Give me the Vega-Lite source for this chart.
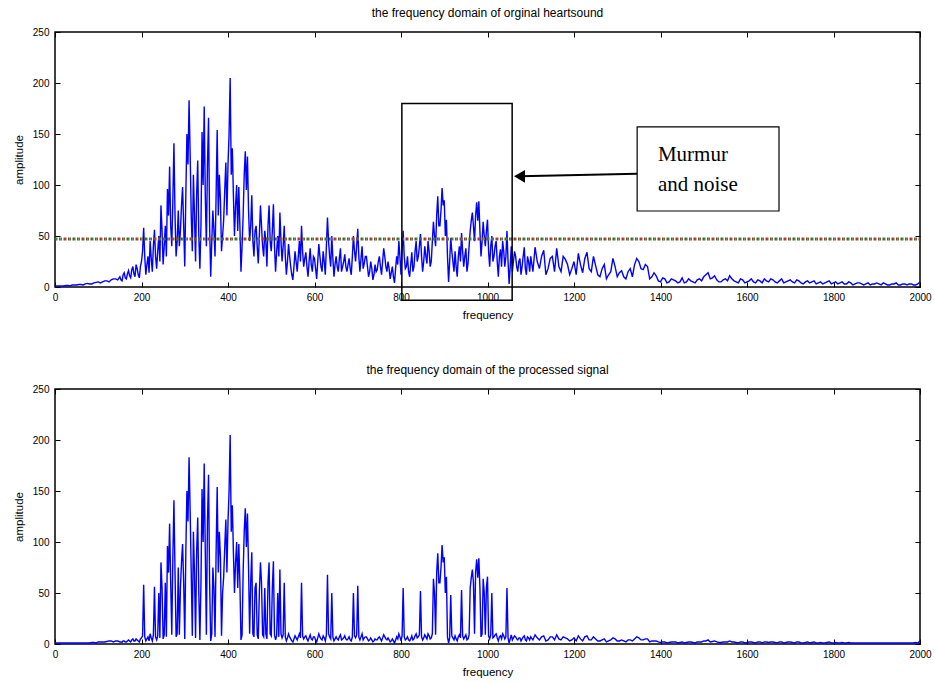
{
"$schema": "https://vega.github.io/schema/vega-lite/v6.json",
"padding": {"left": 12, "top": 6, "right": 10, "bottom": 4},
"spacing": 41,
"config": {
  "font": "Liberation Sans",
  "view": {"stroke": "black", "strokeWidth": 1.5},
  "axis": {"domain": false, "grid": false, "tickColor": "black", "tickWidth": 1, "labelColor": "black", "titleColor": "black", "labelFontSize": 10, "titleFontSize": 11.5, "titleFontWeight": "normal", "labelFlush": false, "labelOverlap": false, "format": "d"},
  "title": {"fontSize": 12, "fontWeight": "normal", "color": "black", "offset": 7}
},
"datasets": {
"s": [
{"f":0,"a":1,"b":1},{"f":10,"a":1,"b":1},{"f":20,"a":1,"b":1},{"f":30,"a":1.5,"b":1},{"f":40,"a":2,"b":1},{"f":50,"a":2,"b":1},{"f":60,"a":2.5,"b":1},{"f":70,"a":3,"b":1},{"f":80,"a":3,"b":1},{"f":90,"a":4,"b":1.5},{"f":100,"a":5,"b":2},{"f":110,"a":5,"b":2},{"f":120,"a":6,"b":2.5},{"f":130,"a":7,"b":3},{"f":140,"a":8,"b":3},
{"f":150,"a":10,"b":2},{"f":155,"a":6,"b":1.5},{"f":160,"a":14,"b":3},{"f":165,"a":8,"b":2},{"f":170,"a":16,"b":4},{"f":175,"a":9,"b":2},{"f":180,"a":20,"b":5},{"f":185,"a":10,"b":3},{"f":190,"a":18,"b":4},{"f":195,"a":9,"b":2},
{"f":200,"a":25,"b":6},{"f":205,"a":58,"b":58},{"f":210,"a":12,"b":3},{"f":215,"a":30,"b":7},{"f":220,"a":45,"b":10},{"f":225,"a":15,"b":3},{"f":230,"a":56,"b":56},{"f":235,"a":18,"b":4},{"f":240,"a":50,"b":50},{"f":245,"a":80,"b":80},
{"f":250,"a":22,"b":5},{"f":255,"a":60,"b":60},{"f":260,"a":96,"b":96},{"f":265,"a":118,"b":118},{"f":270,"a":40,"b":9},{"f":275,"a":141,"b":141},{"f":280,"a":30,"b":7},{"f":285,"a":75,"b":75},{"f":290,"a":55,"b":55},{"f":295,"a":98,"b":98},
{"f":300,"a":20,"b":5},{"f":305,"a":150,"b":150},{"f":310,"a":183,"b":183},{"f":315,"a":70,"b":70},{"f":320,"a":110,"b":110},{"f":325,"a":25,"b":6},{"f":330,"a":124,"b":124},{"f":335,"a":18,"b":4},{"f":340,"a":152,"b":152},{"f":345,"a":177,"b":177},
{"f":350,"a":40,"b":9},{"f":355,"a":166,"b":166},{"f":360,"a":10,"b":3},{"f":365,"a":75,"b":75},{"f":370,"a":30,"b":7},{"f":375,"a":154,"b":154},{"f":380,"a":110,"b":110},{"f":385,"a":35,"b":8},{"f":390,"a":66,"b":66},{"f":395,"a":122,"b":122},
{"f":400,"a":120,"b":120},{"f":405,"a":205,"b":205},{"f":410,"a":136,"b":136},{"f":415,"a":50,"b":50},{"f":420,"a":100,"b":100},{"f":425,"a":98,"b":98},{"f":430,"a":15,"b":4},{"f":435,"a":70,"b":70},{"f":440,"a":133,"b":133},{"f":445,"a":128,"b":128},
{"f":450,"a":45,"b":10},{"f":455,"a":90,"b":90},{"f":460,"a":30,"b":7},{"f":465,"a":60,"b":60},{"f":470,"a":23,"b":5},{"f":475,"a":80,"b":80},{"f":480,"a":40,"b":9},{"f":485,"a":55,"b":55},{"f":490,"a":20,"b":5},{"f":495,"a":80,"b":80},
{"f":500,"a":35,"b":8},{"f":505,"a":81,"b":81},{"f":510,"a":15,"b":4},{"f":515,"a":50,"b":50},{"f":520,"a":73,"b":73},{"f":525,"a":25,"b":6},{"f":530,"a":60,"b":60},{"f":535,"a":12,"b":3},{"f":540,"a":42,"b":10},{"f":545,"a":20,"b":5},
{"f":550,"a":7,"b":2},{"f":555,"a":35,"b":8},{"f":560,"a":15,"b":4},{"f":565,"a":45,"b":10},{"f":570,"a":60,"b":60},{"f":575,"a":20,"b":5},{"f":580,"a":34,"b":8},{"f":585,"a":10,"b":3},{"f":590,"a":38,"b":9},{"f":595,"a":15,"b":4},
{"f":600,"a":28,"b":7},{"f":605,"a":8,"b":2},{"f":610,"a":42,"b":10},{"f":615,"a":20,"b":5},{"f":620,"a":35,"b":8},{"f":625,"a":12,"b":3},{"f":630,"a":68,"b":68},{"f":635,"a":30,"b":7},{"f":640,"a":50,"b":50},{"f":645,"a":10,"b":3},
{"f":650,"a":30,"b":7},{"f":655,"a":15,"b":4},{"f":660,"a":38,"b":9},{"f":665,"a":20,"b":5},{"f":670,"a":32,"b":8},{"f":675,"a":15,"b":4},{"f":680,"a":28,"b":7},{"f":685,"a":12,"b":3},{"f":690,"a":50,"b":50},{"f":695,"a":25,"b":6},
{"f":700,"a":57,"b":57},{"f":705,"a":15,"b":4},{"f":710,"a":40,"b":10},{"f":715,"a":23,"b":6},{"f":720,"a":30,"b":7},{"f":725,"a":10,"b":3},{"f":730,"a":25,"b":6},{"f":735,"a":7,"b":2},{"f":740,"a":22,"b":5},{"f":745,"a":17,"b":4},
{"f":750,"a":30,"b":7},{"f":755,"a":12,"b":3},{"f":760,"a":38,"b":9},{"f":765,"a":20,"b":5},{"f":770,"a":25,"b":6},{"f":775,"a":8,"b":2},{"f":780,"a":20,"b":5},{"f":785,"a":4,"b":1},{"f":790,"a":30,"b":7},{"f":795,"a":45,"b":10},
{"f":800,"a":12,"b":3},{"f":805,"a":55,"b":55},{"f":810,"a":18,"b":4},{"f":815,"a":30,"b":7},{"f":820,"a":10,"b":3},{"f":825,"a":34,"b":8},{"f":830,"a":20,"b":5},{"f":835,"a":45,"b":10},{"f":840,"a":30,"b":7},{"f":845,"a":52,"b":52},
{"f":850,"a":15,"b":4},{"f":855,"a":40,"b":9},{"f":860,"a":23,"b":5},{"f":865,"a":35,"b":8},{"f":870,"a":25,"b":6},{"f":875,"a":64,"b":64},{"f":880,"a":40,"b":9},{"f":885,"a":89,"b":89},{"f":890,"a":60,"b":60},{"f":895,"a":97,"b":97},
{"f":900,"a":85,"b":85},{"f":905,"a":66,"b":66},{"f":910,"a":5,"b":1},{"f":915,"a":48,"b":48},{"f":920,"a":25,"b":6},{"f":925,"a":35,"b":8},{"f":930,"a":10,"b":3},{"f":935,"a":40,"b":9},{"f":940,"a":53,"b":53},{"f":945,"a":20,"b":5},
{"f":950,"a":38,"b":9},{"f":955,"a":23,"b":5},{"f":960,"a":55,"b":55},{"f":965,"a":73,"b":73},{"f":970,"a":45,"b":10},{"f":975,"a":83,"b":83},{"f":980,"a":84,"b":84},{"f":985,"a":30,"b":7},{"f":990,"a":64,"b":64},{"f":995,"a":40,"b":9},
{"f":1000,"a":66,"b":66},{"f":1005,"a":20,"b":5},{"f":1010,"a":50,"b":50},{"f":1015,"a":30,"b":7},{"f":1020,"a":45,"b":10},{"f":1025,"a":10,"b":3},{"f":1030,"a":37,"b":8},{"f":1035,"a":45,"b":10},{"f":1040,"a":20,"b":5},{"f":1045,"a":55,"b":55},
{"f":1050,"a":3,"b":1},{"f":1055,"a":40,"b":9},{"f":1060,"a":25,"b":6},{"f":1065,"a":30,"b":7},{"f":1070,"a":15,"b":4},{"f":1075,"a":28,"b":6},{"f":1080,"a":20,"b":5},{"f":1085,"a":39,"b":8},{"f":1090,"a":12,"b":3},{"f":1095,"a":25,"b":6},
{"f":1100,"a":30,"b":7},{"f":1110,"a":39,"b":9},{"f":1120,"a":18,"b":4},{"f":1130,"a":36,"b":8},{"f":1140,"a":18,"b":4},{"f":1150,"a":30,"b":7},{"f":1160,"a":38,"b":9},{"f":1170,"a":15,"b":4},{"f":1180,"a":27,"b":6},{"f":1190,"a":12,"b":3},
{"f":1200,"a":25,"b":6},{"f":1210,"a":33,"b":8},{"f":1220,"a":14,"b":3},{"f":1230,"a":34,"b":8},{"f":1240,"a":15,"b":4},{"f":1250,"a":21,"b":5},{"f":1260,"a":10,"b":3},{"f":1270,"a":22,"b":5},{"f":1280,"a":12,"b":3},{"f":1290,"a":28,"b":6},
{"f":1300,"a":10,"b":3},{"f":1310,"a":16,"b":4},{"f":1320,"a":8,"b":2},{"f":1330,"a":18,"b":4},{"f":1340,"a":22,"b":5},{"f":1350,"a":25,"b":6},{"f":1360,"a":17,"b":4},{"f":1370,"a":20,"b":5},{"f":1380,"a":10,"b":3},{"f":1390,"a":11,"b":3},
{"f":1400,"a":5,"b":1.5},{"f":1410,"a":8,"b":2},{"f":1420,"a":5,"b":1.5},{"f":1430,"a":7,"b":2},{"f":1440,"a":4,"b":1},{"f":1450,"a":9,"b":2},{"f":1460,"a":5,"b":1.5},{"f":1470,"a":6,"b":2},{"f":1480,"a":4,"b":1},{"f":1490,"a":8,"b":2},
{"f":1500,"a":10,"b":3},{"f":1510,"a":14,"b":4},{"f":1520,"a":9,"b":2.5},{"f":1530,"a":7,"b":2},{"f":1540,"a":5,"b":1.5},{"f":1550,"a":8,"b":2},{"f":1560,"a":11,"b":3},{"f":1570,"a":6,"b":2},{"f":1580,"a":4,"b":1},{"f":1590,"a":7,"b":2},
{"f":1600,"a":5,"b":1.5},{"f":1610,"a":8,"b":2},{"f":1620,"a":4,"b":1},{"f":1630,"a":6,"b":2},{"f":1640,"a":8,"b":2},{"f":1650,"a":5,"b":1.5},{"f":1660,"a":7,"b":2},{"f":1670,"a":4,"b":1},{"f":1680,"a":8,"b":2},{"f":1690,"a":5,"b":1.5},
{"f":1700,"a":7,"b":2},{"f":1710,"a":4,"b":1},{"f":1720,"a":6,"b":2},{"f":1730,"a":3,"b":1},{"f":1740,"a":6,"b":2},{"f":1750,"a":5,"b":1.5},{"f":1760,"a":3,"b":1},{"f":1770,"a":5,"b":1.5},{"f":1780,"a":4,"b":1},{"f":1790,"a":6,"b":2},
{"f":1800,"a":4,"b":1},{"f":1810,"a":3,"b":1},{"f":1820,"a":5,"b":1.5},{"f":1830,"a":3,"b":1},{"f":1840,"a":4,"b":1},{"f":1850,"a":3,"b":1},{"f":1860,"a":4,"b":1},{"f":1870,"a":2,"b":1},{"f":1880,"a":4,"b":1},{"f":1890,"a":3,"b":1},
{"f":1900,"a":4,"b":1},{"f":1910,"a":2,"b":1},{"f":1920,"a":3,"b":1},{"f":1930,"a":2,"b":1},{"f":1940,"a":3,"b":1},{"f":1950,"a":2,"b":1},{"f":1960,"a":3,"b":1},{"f":1970,"a":2,"b":1},{"f":1980,"a":3,"b":1},{"f":1990,"a":2,"b":1.5},{"f":2000,"a":5,"b":3},
{"f":5,"a":1,"b":1},{"f":15,"a":1,"b":1},{"f":25,"a":1.5,"b":1},{"f":35,"a":1,"b":1},{"f":45,"a":2,"b":1},{"f":55,"a":2.5,"b":1},{"f":65,"a":2,"b":1},{"f":75,"a":3.5,"b":1},{"f":85,"a":3,"b":1.5},{"f":95,"a":4.5,"b":1},{"f":105,"a":4,"b":2},{"f":115,"a":6,"b":2},{"f":125,"a":5,"b":3},{"f":135,"a":8,"b":2},{"f":145,"a":7,"b":3},
{"f":152.5,"a":7,"b":2},{"f":157.5,"a":12,"b":3},{"f":162.5,"a":9,"b":2},{"f":167.5,"a":13,"b":3},{"f":172.5,"a":11,"b":3},{"f":177.5,"a":17,"b":4},{"f":182.5,"a":13,"b":3},{"f":187.5,"a":22,"b":5},{"f":192.5,"a":12,"b":3},{"f":197.5,"a":20,"b":5},
{"f":202.5,"a":35,"b":8},{"f":207.5,"a":30,"b":7},{"f":212.5,"a":22,"b":5},{"f":217.5,"a":14,"b":3},{"f":222.5,"a":28,"b":6},{"f":227.5,"a":40,"b":9},{"f":232.5,"a":30,"b":7},{"f":237.5,"a":35,"b":8},{"f":242.5,"a":25,"b":6},{"f":247.5,"a":55,"b":55},
{"f":252.5,"a":40,"b":9},{"f":257.5,"a":30,"b":7},{"f":262.5,"a":70,"b":70},{"f":267.5,"a":60,"b":60},{"f":272.5,"a":85,"b":85},{"f":277.5,"a":70,"b":70},{"f":282.5,"a":45,"b":10},{"f":287.5,"a":40,"b":9},{"f":292.5,"a":80,"b":80},{"f":297.5,"a":60,"b":60},
{"f":302.5,"a":90,"b":90},{"f":307.5,"a":120,"b":120},{"f":312.5,"a":130,"b":130},{"f":317.5,"a":35,"b":8},{"f":322.5,"a":70,"b":70},{"f":327.5,"a":90,"b":90},{"f":332.5,"a":50,"b":50},{"f":337.5,"a":60,"b":60},{"f":342.5,"a":100,"b":100},{"f":347.5,"a":90,"b":90},
{"f":352.5,"a":120,"b":120},{"f":357.5,"a":60,"b":60},{"f":362.5,"a":45,"b":10},{"f":367.5,"a":55,"b":55},{"f":372.5,"a":90,"b":90},{"f":377.5,"a":70,"b":70},{"f":382.5,"a":85,"b":85},{"f":387.5,"a":50,"b":50},{"f":392.5,"a":95,"b":95},{"f":397.5,"a":70,"b":70},
{"f":402.5,"a":150,"b":150},{"f":407.5,"a":110,"b":110},{"f":412.5,"a":90,"b":90},{"f":417.5,"a":80,"b":80},{"f":422.5,"a":55,"b":55},{"f":427.5,"a":60,"b":60},{"f":432.5,"a":40,"b":9},{"f":437.5,"a":110,"b":110},{"f":442.5,"a":95,"b":95},{"f":447.5,"a":75,"b":75},
{"f":452.5,"a":60,"b":60},{"f":457.5,"a":45,"b":10},{"f":462.5,"a":55,"b":55},{"f":467.5,"a":40,"b":9},{"f":472.5,"a":50,"b":50},{"f":477.5,"a":60,"b":60},{"f":482.5,"a":30,"b":7},{"f":487.5,"a":45,"b":10},{"f":492.5,"a":60,"b":60},{"f":497.5,"a":45,"b":10},
{"f":502.5,"a":55,"b":55},{"f":507.5,"a":40,"b":9},{"f":512.5,"a":35,"b":8},{"f":517.5,"a":30,"b":7},{"f":522.5,"a":45,"b":10},{"f":527.5,"a":40,"b":9},{"f":532.5,"a":30,"b":7},{"f":537.5,"a":25,"b":6},{"f":542.5,"a":30,"b":7},{"f":547.5,"a":12,"b":3},
{"f":552.5,"a":20,"b":5},{"f":557.5,"a":25,"b":6},{"f":562.5,"a":30,"b":7},{"f":567.5,"a":25,"b":6},{"f":572.5,"a":35,"b":8},{"f":577.5,"a":28,"b":7},{"f":582.5,"a":20,"b":5},{"f":587.5,"a":25,"b":6},{"f":592.5,"a":22,"b":5},{"f":597.5,"a":30,"b":7},
{"f":602.5,"a":18,"b":4},{"f":607.5,"a":25,"b":6},{"f":612.5,"a":30,"b":7},{"f":617.5,"a":15,"b":4},{"f":622.5,"a":25,"b":6},{"f":627.5,"a":40,"b":9},{"f":632.5,"a":45,"b":10},{"f":637.5,"a":20,"b":5},{"f":642.5,"a":28,"b":7},{"f":647.5,"a":22,"b":5},
{"f":652.5,"a":20,"b":5},{"f":657.5,"a":28,"b":7},{"f":662.5,"a":15,"b":4},{"f":667.5,"a":25,"b":6},{"f":672.5,"a":20,"b":5},{"f":677.5,"a":22,"b":5},{"f":682.5,"a":18,"b":4},{"f":687.5,"a":30,"b":7},{"f":692.5,"a":35,"b":8},{"f":697.5,"a":40,"b":9},
{"f":702.5,"a":30,"b":7},{"f":707.5,"a":28,"b":7},{"f":712.5,"a":18,"b":4},{"f":717.5,"a":30,"b":7},{"f":722.5,"a":20,"b":5},{"f":727.5,"a":15,"b":4},{"f":732.5,"a":18,"b":4},{"f":737.5,"a":12,"b":3},{"f":742.5,"a":15,"b":4},{"f":747.5,"a":25,"b":6},
{"f":752.5,"a":20,"b":5},{"f":757.5,"a":25,"b":6},{"f":762.5,"a":30,"b":7},{"f":767.5,"a":15,"b":4},{"f":772.5,"a":18,"b":4},{"f":777.5,"a":14,"b":3},{"f":782.5,"a":10,"b":3},{"f":787.5,"a":18,"b":4},{"f":792.5,"a":22,"b":5},{"f":797.5,"a":30,"b":7},
{"f":802.5,"a":35,"b":8},{"f":807.5,"a":30,"b":7},{"f":812.5,"a":20,"b":5},{"f":817.5,"a":15,"b":4},{"f":822.5,"a":22,"b":5},{"f":827.5,"a":15,"b":4},{"f":832.5,"a":35,"b":8},{"f":837.5,"a":25,"b":6},{"f":842.5,"a":40,"b":9},{"f":847.5,"a":30,"b":7},
{"f":852.5,"a":25,"b":6},{"f":857.5,"a":30,"b":7},{"f":862.5,"a":45,"b":10},{"f":867.5,"a":20,"b":5},{"f":872.5,"a":45,"b":10},{"f":877.5,"a":50,"b":50},{"f":882.5,"a":70,"b":70},{"f":887.5,"a":60,"b":60},{"f":892.5,"a":75,"b":75},{"f":897.5,"a":80,"b":80},
{"f":902.5,"a":50,"b":50},{"f":907.5,"a":30,"b":7},{"f":912.5,"a":25,"b":6},{"f":917.5,"a":35,"b":8},{"f":922.5,"a":15,"b":4},{"f":927.5,"a":20,"b":5},{"f":932.5,"a":30,"b":7},{"f":937.5,"a":25,"b":6},{"f":942.5,"a":35,"b":8},{"f":947.5,"a":30,"b":7},
{"f":952.5,"a":15,"b":4},{"f":957.5,"a":40,"b":9},{"f":962.5,"a":65,"b":65},{"f":967.5,"a":60,"b":60},{"f":972.5,"a":70,"b":70},{"f":977.5,"a":65,"b":65},{"f":982.5,"a":55,"b":55},{"f":987.5,"a":45,"b":10},{"f":992.5,"a":50,"b":50},{"f":997.5,"a":55,"b":55},
{"f":1002.5,"a":35,"b":8},{"f":1007.5,"a":40,"b":9},{"f":1012.5,"a":25,"b":6},{"f":1017.5,"a":40,"b":9},{"f":1022.5,"a":25,"b":6},{"f":1027.5,"a":30,"b":7},{"f":1032.5,"a":20,"b":5},{"f":1037.5,"a":35,"b":8},{"f":1042.5,"a":30,"b":7},{"f":1047.5,"a":25,"b":6},
{"f":1052.5,"a":20,"b":5},{"f":1057.5,"a":15,"b":4},{"f":1062.5,"a":35,"b":8},{"f":1067.5,"a":20,"b":5},{"f":1072.5,"a":25,"b":6},{"f":1077.5,"a":12,"b":3},{"f":1082.5,"a":30,"b":7},{"f":1087.5,"a":18,"b":4},{"f":1092.5,"a":30,"b":7},{"f":1097.5,"a":15,"b":4},
{"f":1105,"a":15,"b":4},{"f":1115,"a":25,"b":6},{"f":1125,"a":30,"b":7},{"f":1135,"a":12,"b":3},{"f":1145,"a":28,"b":7},{"f":1155,"a":15,"b":4},{"f":1165,"a":20,"b":5},{"f":1175,"a":30,"b":7},{"f":1185,"a":22,"b":5},{"f":1195,"a":18,"b":4},
{"f":1205,"a":12,"b":3},{"f":1215,"a":22,"b":5},{"f":1225,"a":28,"b":7},{"f":1235,"a":18,"b":4},{"f":1245,"a":30,"b":7},{"f":1255,"a":12,"b":3},{"f":1265,"a":18,"b":4},{"f":1275,"a":8,"b":2},{"f":1285,"a":15,"b":4},{"f":1295,"a":20,"b":5},
{"f":1305,"a":14,"b":3},{"f":1315,"a":10,"b":3},{"f":1325,"a":15,"b":4},{"f":1335,"a":10,"b":3},{"f":1345,"a":28,"b":7},{"f":1355,"a":18,"b":4},{"f":1365,"a":22,"b":5},{"f":1375,"a":8,"b":2},{"f":1385,"a":14,"b":3},{"f":1395,"a":6,"b":2},
{"f":1405,"a":9,"b":2},{"f":1415,"a":4,"b":1},{"f":1425,"a":8,"b":2},{"f":1435,"a":6,"b":2},{"f":1445,"a":5,"b":1.5},{"f":1455,"a":4,"b":1},{"f":1465,"a":8,"b":2},{"f":1475,"a":5,"b":1.5},{"f":1485,"a":7,"b":2},{"f":1495,"a":6,"b":2},
{"f":1505,"a":12,"b":3},{"f":1515,"a":8,"b":2},{"f":1525,"a":11,"b":3},{"f":1535,"a":5,"b":1.5},{"f":1545,"a":7,"b":2},{"f":1555,"a":6,"b":2},{"f":1565,"a":8,"b":2},{"f":1575,"a":5,"b":1.5},{"f":1585,"a":8,"b":2},{"f":1595,"a":4,"b":1},
{"f":1605,"a":6,"b":2},{"f":1615,"a":5,"b":1.5},{"f":1625,"a":7,"b":2},{"f":1635,"a":4,"b":1},{"f":1645,"a":6,"b":2},{"f":1655,"a":8,"b":2},{"f":1665,"a":5,"b":1.5},{"f":1675,"a":6,"b":2},{"f":1685,"a":4,"b":1},{"f":1695,"a":6,"b":2},
{"f":1705,"a":5,"b":1.5},{"f":1715,"a":7,"b":2},{"f":1725,"a":4,"b":1},{"f":1735,"a":5,"b":1.5},{"f":1745,"a":4,"b":1},{"f":1755,"a":6,"b":2},{"f":1765,"a":4,"b":1},{"f":1775,"a":3,"b":1},{"f":1785,"a":5,"b":1.5},{"f":1795,"a":3,"b":1},
{"f":1805,"a":5,"b":1.5},{"f":1815,"a":4,"b":1},{"f":1825,"a":3,"b":1},{"f":1835,"a":5,"b":1.5},{"f":1845,"a":2,"b":1},{"f":1855,"a":4,"b":1},{"f":1865,"a":3,"b":1},{"f":1875,"a":3,"b":1},{"f":1885,"a":2,"b":1},{"f":1895,"a":3,"b":1},
{"f":1905,"a":3,"b":1},{"f":1915,"a":4,"b":1},{"f":1925,"a":2,"b":1},{"f":1935,"a":3,"b":1},{"f":1945,"a":4,"b":1},{"f":1955,"a":2,"b":1},{"f":1965,"a":3,"b":1},{"f":1975,"a":3,"b":1},{"f":1985,"a":2,"b":1},{"f":1995,"a":3,"b":1}
]
},
"vconcat": [
{
  "width": 865, "height": 255,
  "title": "the frequency domain of orginal heartsound",
  "resolve": {"axis": {"x": "independent", "y": "independent"}},
  "layer": [
    {
      "data": {"name": "s"},
      "mark": {"type": "line", "color": "#0000ff", "strokeWidth": 1.4},
      "encoding": {
        "x": {"field": "f", "type": "quantitative", "scale": {"domain": [0, 2000], "nice": false}, "axis": {"orient": "bottom", "values": [0,200,400,600,800,1000,1200,1400,1600,1800,2000], "tickSize": -5, "labelPadding": 10, "title": "frequency", "titlePadding": 7}},
        "y": {"field": "a", "type": "quantitative", "scale": {"domain": [0, 250], "nice": false}, "axis": {"orient": "left", "values": [0,50,100,150,200,250], "tickSize": -5, "labelPadding": 11, "title": "amplitude", "titlePadding": 8}}
      }
    },
    {
      "data": {"name": "s"},
      "mark": {"type": "point", "opacity": 0},
      "encoding": {
        "x": {"field": "f", "type": "quantitative", "axis": {"orient": "top", "values": [0,200,400,600,800,1000,1200,1400,1600,1800,2000], "tickSize": -5, "labels": false, "title": null}},
        "y": {"field": "a", "type": "quantitative", "axis": {"orient": "right", "values": [0,50,100,150,200,250], "tickSize": -5, "labels": false, "title": null}}
      }
    },
    {
      "data": {"values": [{"t": 47}]},
      "mark": {"type": "rule", "color": "#b03030", "strokeWidth": 3, "strokeDash": [1.5, 3]},
      "encoding": {"y": {"field": "t", "type": "quantitative", "axis": null}}
    },
    {
      "data": {"values": [{"t": 47}]},
      "mark": {"type": "rule", "color": "#2e8b3a", "strokeWidth": 3, "strokeDash": [1.5, 3], "strokeDashOffset": 1.5},
      "encoding": {"y": {"field": "t", "type": "quantitative", "axis": null}}
    },
    {
      "data": {"values": [{"x1": 802, "x2": 1057, "y1": -13, "y2": 180}]},
      "mark": {"type": "rect", "filled": false, "stroke": "black", "strokeWidth": 1.5, "clip": false},
      "encoding": {
        "x": {"field": "x1", "type": "quantitative", "axis": null}, "x2": {"field": "x2"},
        "y": {"field": "y1", "type": "quantitative", "axis": null}, "y2": {"field": "y2"}
      }
    },
    {
      "data": {"values": [{"x1": 1346, "x2": 1674, "y1": 74.5, "y2": 157}]},
      "mark": {"type": "rect", "fill": "white", "stroke": "black", "strokeWidth": 1.2},
      "encoding": {
        "x": {"field": "x1", "type": "quantitative", "axis": null}, "x2": {"field": "x2"},
        "y": {"field": "y1", "type": "quantitative", "axis": null}, "y2": {"field": "y2"}
      }
    },
    {
      "data": {"values": [{"x1": 1346, "x2": 1075, "y1": 111, "y2": 108.5}]},
      "mark": {"type": "rule", "color": "black", "strokeWidth": 2},
      "encoding": {
        "x": {"field": "x1", "type": "quantitative", "axis": null}, "x2": {"field": "x2"},
        "y": {"field": "y1", "type": "quantitative", "axis": null}, "y2": {"field": "y2"}
      }
    },
    {
      "data": {"values": [{"x": 1074, "y": 108.5}]},
      "mark": {"type": "point", "shape": "triangle-left", "filled": true, "color": "black", "size": 160, "opacity": 1},
      "encoding": {
        "x": {"field": "x", "type": "quantitative", "axis": null},
        "y": {"field": "y", "type": "quantitative", "axis": null}
      }
    },
    {
      "data": {"values": [{"x": 1394, "y": 129, "txt": "Murmur"}, {"x": 1394, "y": 100, "txt": "and noise"}]},
      "mark": {"type": "text", "align": "left", "baseline": "middle", "font": "Liberation Serif", "fontSize": 21, "color": "black"},
      "encoding": {
        "x": {"field": "x", "type": "quantitative", "axis": null},
        "y": {"field": "y", "type": "quantitative", "axis": null},
        "text": {"field": "txt"}
      }
    }
  ]
},
{
  "width": 865, "height": 255,
  "title": "the frequency domain of the processed signal",
  "resolve": {"axis": {"x": "independent", "y": "independent"}},
  "layer": [
    {
      "data": {"name": "s"},
      "mark": {"type": "line", "color": "#0000ff", "strokeWidth": 1.4},
      "encoding": {
        "x": {"field": "f", "type": "quantitative", "scale": {"domain": [0, 2000], "nice": false}, "axis": {"orient": "bottom", "values": [0,200,400,600,800,1000,1200,1400,1600,1800,2000], "tickSize": -5, "labelPadding": 10, "title": "frequency", "titlePadding": 7}},
        "y": {"field": "b", "type": "quantitative", "scale": {"domain": [0, 250], "nice": false}, "axis": {"orient": "left", "values": [0,50,100,150,200,250], "tickSize": -5, "labelPadding": 11, "title": "amplitude", "titlePadding": 8}}
      }
    },
    {
      "data": {"name": "s"},
      "mark": {"type": "point", "opacity": 0},
      "encoding": {
        "x": {"field": "f", "type": "quantitative", "axis": {"orient": "top", "values": [0,200,400,600,800,1000,1200,1400,1600,1800,2000], "tickSize": -5, "labels": false, "title": null}},
        "y": {"field": "b", "type": "quantitative", "axis": {"orient": "right", "values": [0,50,100,150,200,250], "tickSize": -5, "labels": false, "title": null}}
      }
    }
  ]
}
]
}
